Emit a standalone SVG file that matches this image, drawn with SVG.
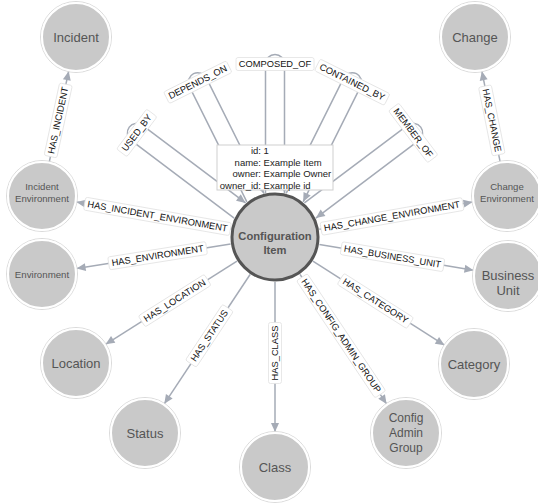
<svg xmlns="http://www.w3.org/2000/svg" width="538" height="504" viewBox="0 0 538 504">
<defs>
<marker id="arr" markerUnits="userSpaceOnUse" markerWidth="12" markerHeight="12" viewBox="-10 -6 12 12" refX="0" refY="0" orient="auto">
<path d="M0,0 L-9,-4 L-9,4 Z" fill="#a5abb6"/>
</marker>
<style>
.e{fill:none;stroke:#a5abb6;stroke-width:1.5;marker-end:url(#arr)}
.lb rect{fill:#fff;stroke:#e2e2e2;stroke-width:0.8}
.lb text{font-family:"Liberation Sans",Arial,sans-serif;font-size:9.3px;fill:#111;text-anchor:middle;dominant-baseline:central}
.n circle.f{fill:#c9c9c9;stroke:#fff;stroke-width:2}
.n circle.o{fill:none;stroke:#dadada;stroke-width:1}
.n text{font-family:"Liberation Sans",Arial,sans-serif;fill:#555;text-anchor:middle;dominant-baseline:central}
.tt text{font-family:"Liberation Sans",Arial,sans-serif;font-size:9.5px;fill:#222;dominant-baseline:central}
</style>
</defs>
<rect width="538" height="504" fill="#fff"/>

<g id="connectors">
<g transform="translate(275 237)">
<path class="e" transform="rotate(-53)" d="M-9.5,-44 L-9.5,-173 A9.5,9.5 0 0 1 9.5,-173 L9.5,-44"/>
<path class="e" transform="rotate(-26.5)" d="M-9.5,-44 L-9.5,-173 A9.5,9.5 0 0 1 9.5,-173 L9.5,-44"/>
<path class="e" d="M-9.5,-44 L-9.5,-173 A9.5,9.5 0 0 1 9.5,-173 L9.5,-44"/>
<path class="e" transform="rotate(26.5)" d="M-9.5,-44 L-9.5,-173 A9.5,9.5 0 0 1 9.5,-173 L9.5,-44"/>
<path class="e" transform="rotate(53)" d="M-9.5,-44 L-9.5,-173 A9.5,9.5 0 0 1 9.5,-173 L9.5,-44"/>
</g>
<path class="e" d="M230.7,229.2 L76.5,202.1"/>
<path class="e" d="M230.6,244.1 L76.6,268.5"/>
<path class="e" d="M237,261.1 L105.6,344.3"/>
<path class="e" d="M250.1,274.5 L164.3,403.8"/>
<path class="e" d="M275,282 L275,432"/>
<path class="e" d="M300,274.4 L386.6,403.9"/>
<path class="e" d="M312.9,261.2 L444.5,345.2"/>
<path class="e" d="M319.4,244.4 L473.5,270.2"/>
<path class="e" d="M319.3,229.2 L472.5,202.1"/>
<path class="e" d="M49.3,161.8 L68.7,71.2"/>
<path class="e" d="M500.1,161.7 L481.9,71.3"/>

<g class="lb" transform="translate(136.8 132.9) rotate(-53)"><rect x="-25" y="-6.5" width="50" height="13" rx="2"/><text>USED_BY</text></g>
<g class="lb" transform="translate(197.8 82.2) rotate(-26.5)"><rect x="-35" y="-6.5" width="70" height="13" rx="2"/><text>DEPENDS_ON</text></g>
<g class="lb" transform="translate(275 64)"><rect x="-39" y="-6.5" width="78" height="13" rx="2"/><text>COMPOSED_OF</text></g>
<g class="lb" transform="translate(352.2 82.2) rotate(26.5)"><rect x="-39" y="-6.5" width="78" height="13" rx="2"/><text>CONTAINED_BY</text></g>
<g class="lb" transform="translate(413.2 132.9) rotate(53)"><rect x="-32.5" y="-6.5" width="65" height="13" rx="2"/><text>MEMBER_OF</text></g>
<g class="lb" transform="translate(157.5 216.4) rotate(10)"><rect x="-74" y="-6.5" width="148" height="13" rx="2"/><text>HAS_INCIDENT_ENVIRONMENT</text></g>
<g class="lb" transform="translate(157.6 255.7) rotate(-9)"><rect x="-49.5" y="-6.5" width="99" height="13" rx="2"/><text>HAS_ENVIRONMENT</text></g>
<g class="lb" transform="translate(174.7 300.6) rotate(-32.3)"><rect x="-39" y="-6.5" width="78" height="13" rx="2"/><text>HAS_LOCATION</text></g>
<g class="lb" transform="translate(209.4 335.8) rotate(-56.4)"><rect x="-33.5" y="-6.5" width="67" height="13" rx="2"/><text>HAS_STATUS</text></g>
<g class="lb" transform="translate(275 353) rotate(-90)"><rect x="-30.5" y="-6.5" width="61" height="13" rx="2"/><text>HAS_CLASS</text></g>
<g class="lb" transform="translate(341.1 335.8) rotate(56.2)"><rect x="-70.5" y="-6.5" width="141" height="13" rx="2"/><text>HAS_CONFIG_ADMIN_GROUP</text></g>
<g class="lb" transform="translate(375.4 301) rotate(32.5)"><rect x="-41.25" y="-6.5" width="82.5" height="13" rx="2"/><text>HAS_CATEGORY</text></g>
<g class="lb" transform="translate(392.5 256.7) rotate(9.5)"><rect x="-52" y="-6.5" width="104" height="13" rx="2"/><text>HAS_BUSINESS_UNIT</text></g>
<g class="lb" transform="translate(392 216.4) rotate(-10)"><rect x="-72" y="-6.5" width="144" height="13" rx="2"/><text>HAS_CHANGE_ENVIRONMENT</text></g>
<g class="lb" transform="translate(58.2 120.4) rotate(-77.9)"><rect x="-37" y="-6.5" width="74" height="13" rx="2"/><text>HAS_INCIDENT</text></g>
<g class="lb" transform="translate(491.8 120.4) rotate(78.6)"><rect x="-35" y="-6.5" width="70" height="13" rx="2"/><text>HAS_CHANGE</text></g>
</g>

<g id="incident" class="n"><circle class="o" cx="76" cy="37" r="35.5"/><circle class="f" cx="76" cy="37" r="34"/><text x="76" y="37" font-size="13">Incident</text></g>
<g id="change" class="n"><circle class="o" cx="475" cy="37" r="35.5"/><circle class="f" cx="475" cy="37" r="34"/><text x="475" y="37" font-size="13">Change</text></g>
<g id="incident-environment" class="n"><circle class="o" cx="42" cy="196" r="35.5"/><circle class="f" cx="42" cy="196" r="34"/><text x="42" y="186" font-size="9.6">Incident</text><text x="42" y="198" font-size="9.6">Environment</text></g>
<g id="change-environment" class="n"><circle class="o" cx="507" cy="196" r="35.5"/><circle class="f" cx="507" cy="196" r="34"/><text x="507" y="186" font-size="9.6">Change</text><text x="507" y="198" font-size="9.6">Environment</text></g>
<g id="environment" class="n"><circle class="o" cx="42" cy="274" r="35.5"/><circle class="f" cx="42" cy="274" r="34"/><text x="42" y="274" font-size="9.7">Environment</text></g>
<g id="business-unit" class="n"><circle class="o" cx="508" cy="276" r="35.5"/><circle class="f" cx="508" cy="276" r="34"/><text x="508" y="275" font-size="13">Business</text><text x="508" y="290" font-size="13">Unit</text></g>
<g id="location" class="n"><circle class="o" cx="76" cy="363" r="35.5"/><circle class="f" cx="76" cy="363" r="34"/><text x="76" y="363" font-size="13">Location</text></g>
<g id="category" class="n"><circle class="o" cx="474" cy="364" r="35.5"/><circle class="f" cx="474" cy="364" r="34"/><text x="474" y="364" font-size="13">Category</text></g>
<g id="status" class="n"><circle class="o" cx="145" cy="433" r="35.5"/><circle class="f" cx="145" cy="433" r="34"/><text x="145" y="433" font-size="13">Status</text></g>
<g id="config-admin-group" class="n"><circle class="o" cx="406" cy="433" r="35.5"/><circle class="f" cx="406" cy="433" r="34"/><text x="406" y="418" font-size="12">Config</text><text x="406" y="433" font-size="12">Admin</text><text x="406" y="448" font-size="12">Group</text></g>
<g id="class" class="n"><circle class="o" cx="275" cy="467" r="35.5"/><circle class="f" cx="275" cy="467" r="34"/><text x="275" y="467" font-size="13">Class</text></g>
<g id="configuration-item" class="n"><circle cx="275" cy="237" r="43" fill="#c9c9c9" stroke="#555" stroke-width="3"/><text x="275" y="236" font-size="11.2" font-weight="bold">Configuration</text><text x="275" y="250" font-size="11.2" font-weight="bold">Item</text></g>

<g id="tooltip" class="tt">
<rect x="217" y="145" width="116" height="45" fill="#fff" stroke="#cfcfcf" stroke-width="1"/>
<text x="261" y="150.5" text-anchor="end">id:</text><text x="263.6" y="150.5">1</text>
<text x="261" y="162" text-anchor="end">name:</text><text x="263.6" y="162">Example Item</text>
<text x="261" y="173.5" text-anchor="end">owner:</text><text x="263.6" y="173.5">Example Owner</text>
<text x="261" y="185" text-anchor="end">owner_id:</text><text x="263.6" y="185">Example id</text>
</g>
</svg>
